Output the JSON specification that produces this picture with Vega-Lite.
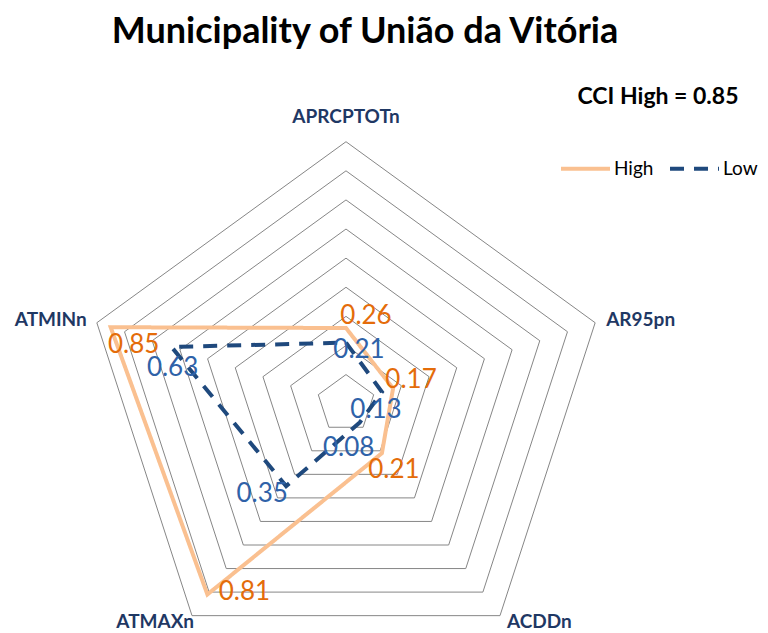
{
  "$schema": "https://vega.github.io/schema/vega-lite/v6.json",
  "width": 768,
  "height": 573,
  "autosize": {"type": "none"},
  "padding": {"top": 60, "left": 0, "right": 0, "bottom": 0},
  "background": "white",
  "title": {
    "text": "Municipality of União da Vitória",
    "font": "Lato",
    "fontSize": 36,
    "fontWeight": "bold",
    "color": "black",
    "anchor": "middle",
    "dx": -19,
    "dy": 37,
    "offset": 18,
    "baseline": "alphabetic"
  },
  "config": {"view": {"stroke": null}},
  "datasets": {
    "grid": [
      {"level": 0.1, "k": [0, 1, 2, 3, 4]},
      {"level": 0.2, "k": [0, 1, 2, 3, 4]},
      {"level": 0.3, "k": [0, 1, 2, 3, 4]},
      {"level": 0.4, "k": [0, 1, 2, 3, 4]},
      {"level": 0.5, "k": [0, 1, 2, 3, 4]},
      {"level": 0.6, "k": [0, 1, 2, 3, 4]},
      {"level": 0.7, "k": [0, 1, 2, 3, 4]},
      {"level": 0.8, "k": [0, 1, 2, 3, 4]},
      {"level": 0.9, "k": [0, 1, 2, 3, 4]}
    ],
    "axes": [
      {"axis": "APRCPTOTn", "k": 0, "level": 0.9},
      {"axis": "AR95pn", "k": 1, "level": 0.9},
      {"axis": "ACDDn", "k": 2, "level": 0.9},
      {"axis": "ATMAXn", "k": 3, "level": 0.9},
      {"axis": "ATMINn", "k": 4, "level": 0.9}
    ],
    "series": [
      {"series": "High", "axis": "APRCPTOTn", "k": 0, "value": 0.26},
      {"series": "High", "axis": "AR95pn", "k": 1, "value": 0.17},
      {"series": "High", "axis": "ACDDn", "k": 2, "value": 0.21},
      {"series": "High", "axis": "ATMAXn", "k": 3, "value": 0.81},
      {"series": "High", "axis": "ATMINn", "k": 4, "value": 0.85},
      {"series": "Low", "axis": "APRCPTOTn", "k": 0, "value": 0.21},
      {"series": "Low", "axis": "AR95pn", "k": 1, "value": 0.13},
      {"series": "Low", "axis": "ACDDn", "k": 2, "value": 0.08},
      {"series": "Low", "axis": "ATMAXn", "k": 3, "value": 0.35},
      {"series": "Low", "axis": "ATMINn", "k": 4, "value": 0.63}
    ]
  },
  "encoding": {
    "x": {"field": "x", "type": "quantitative", "axis": null, "scale": {"domain": [-1.1886, 1.4497], "nice": false, "zero": false}},
    "y": {"field": "y", "type": "quantitative", "axis": null, "scale": {"domain": [-0.7877, 1.1807], "nice": false, "zero": false}}
  },
  "layer": [
    {
      "data": {"name": "grid"},
      "transform": [
        {"flatten": ["k"]},
        {"calculate": "datum.level * sin(datum.k * 2 * PI / 5)", "as": "x"},
        {"calculate": "datum.level * cos(datum.k * 2 * PI / 5)", "as": "y"}
      ],
      "mark": {"type": "line", "interpolate": "linear-closed", "color": "#868686", "strokeWidth": 1},
      "encoding": {"detail": {"field": "level"}, "order": {"field": "k"}}
    },
    {
      "data": {"name": "series"},
      "transform": [
        {"calculate": "datum.value * sin(datum.k * 2 * PI / 5)", "as": "x"},
        {"calculate": "datum.value * cos(datum.k * 2 * PI / 5)", "as": "y"}
      ],
      "mark": {"type": "line", "interpolate": "linear-closed", "strokeWidth": 4},
      "encoding": {
        "order": {"field": "k"},
        "color": {
          "field": "series", "type": "nominal",
          "scale": {"domain": ["High", "Low"], "range": ["#FAC090", "#1F497D"]},
          "legend": {
            "title": "CCI High = 0.85",
            "orient": "none",
            "legendX": 559,
            "legendY": 26,
            "direction": "horizontal",
            "titleAnchor": "middle",
            "titleFont": "Lato",
            "titleFontSize": 23,
            "titleFontWeight": "bold",
            "titleColor": "black",
            "titlePadding": 33,
            "labelFont": "Lato",
            "labelFontSize": 19,
            "labelColor": "black",
            "symbolType": "stroke",
            "symbolSize": 2400,
            "symbolStrokeWidth": 4,
            "columnPadding": 8,
            "labelOffset": 2,
            "padding": 0
          }
        },
        "strokeDash": {
          "field": "series", "type": "nominal",
          "scale": {"domain": ["High", "Low"], "range": [[1, 0], [14, 10]]},
          "legend": {"title": "CCI High = 0.85"}
        }
      }
    },
    {
      "data": {"name": "series"},
      "transform": [
        {"calculate": "datum.value * sin(datum.k * 2 * PI / 5)", "as": "x"},
        {"calculate": "datum.value * cos(datum.k * 2 * PI / 5)", "as": "y"}
      ],
      "mark": {
        "type": "text",
        "font": "Lato",
        "fontSize": 26,
        "align": "center",
        "baseline": "middle",
        "dx": {"expr": "datum.series == 'High' ? [20, 18, 12, 37, 23][datum.k] : [13, -6, -11, -24, 1][datum.k]"},
        "dy": {"expr": "datum.series == 'High' ? [-12, -8, 17, -2, 18][datum.k] : [7, 18, 25, 8, 21][datum.k]"}
      },
      "encoding": {
        "text": {"field": "value", "type": "quantitative", "format": ".2f"},
        "color": {"condition": {"test": "datum.series == 'High'", "value": "#E46C0A"}, "value": "#2F62A8"}
      }
    },
    {
      "data": {"name": "axes"},
      "transform": [
        {"calculate": "datum.level * sin(datum.k * 2 * PI / 5)", "as": "x"},
        {"calculate": "datum.level * cos(datum.k * 2 * PI / 5)", "as": "y"}
      ],
      "mark": {
        "type": "text",
        "font": "Lato",
        "fontSize": 19,
        "fontWeight": "bold",
        "color": "#1F3864",
        "baseline": "middle",
        "align": {"expr": "['center', 'left', 'left', 'right', 'right'][datum.k]"},
        "dx": {"expr": "[0, 11, 7, 2, -10][datum.k]"},
        "dy": {"expr": "[-25, -3, 6, 6, -3][datum.k]"}
      },
      "encoding": {"text": {"field": "axis"}}
    }
  ]
}
